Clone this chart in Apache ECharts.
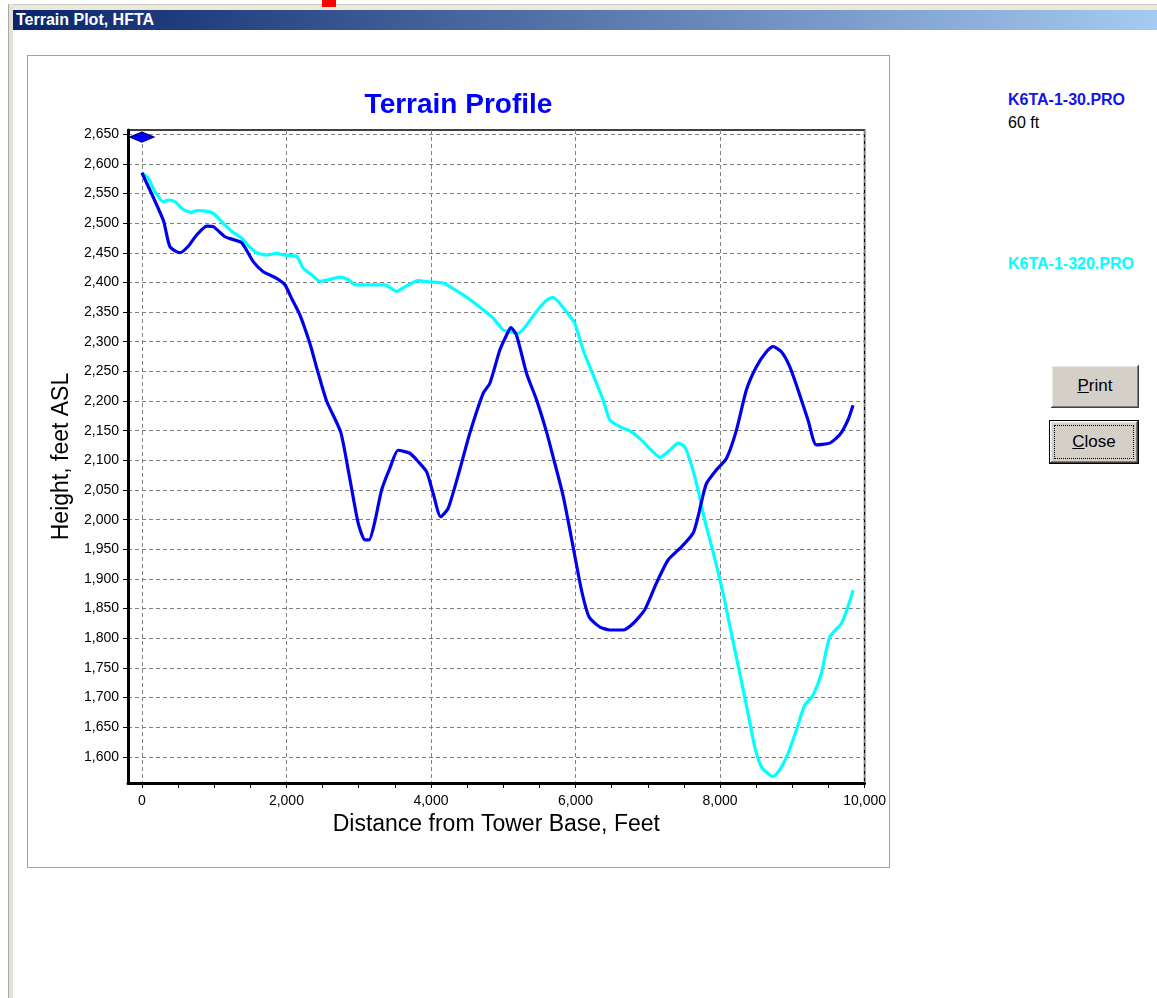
<!DOCTYPE html>
<html>
<head>
<meta charset="utf-8">
<title>Terrain Plot, HFTA</title>
<script src="https://cdn.jsdelivr.net/npm/echarts@6/dist/echarts.min.js"></script>
<style>
  html, body { margin: 0; padding: 0; background: #fff; width: 1157px; height: 998px; overflow: hidden; }
  body { position: relative; font-family: 'Liberation Sans', Arial, sans-serif; }
  #topstrip { position: absolute; left: 8px; top: 4px; right: 0; height: 6px; background: #ece9d8; border-top: 1px solid #c8c8c8; }
  #redmark { position: absolute; left: 322px; top: 0; width: 14px; height: 7px; background: #ff0000; }
  #leftedge { position: absolute; left: 8px; top: 4px; width: 4px; bottom: 0; background: #e4e1d6; border-left: 1px solid #a8a8a8; }
  #titlebar { position: absolute; left: 13px; top: 10px; right: 0; height: 20px;
              background: linear-gradient(to right, #0a246a, #a6caf0); }
  #titlebar span { position: absolute; left: 3px; top: 1px; color: #fff; font-weight: bold; font-size: 16px; }
  #chart { position: absolute; left: 27px; top: 55px; width: 861px; height: 811px; border: 1px solid #a0a0a0; }
  .lbl { position: absolute; left: 1008px; font-size: 16px; }
  .btn { position: absolute; background: #d4d0c8; color: #000; font-size: 17px; text-align: center; box-sizing: border-box;
         box-shadow: inset -1px -1px #404040, inset 1px 1px #ffffff, inset -2px -2px #808080, inset 2px 2px #e8e6e0; }
  .btn u { text-decoration: underline; }
  #close { border: 1px solid #000; }
  #close .focus { position: absolute; left: 4px; top: 4px; right: 4px; bottom: 4px; border: 1px dotted #000; }
</style>
</head>
<body>
<div id="topstrip"></div>
<div id="redmark"></div>
<div id="leftedge"></div>
<div id="titlebar"><span>Terrain Plot, HFTA</span></div>

<div id="chart"></div>

<div class="lbl" style="top:91px; color:#1414e6; font-weight:bold;">K6TA-1-30.PRO</div>
<div class="lbl" style="top:114px; color:#000;">60 ft</div>
<div class="lbl" style="top:255px; color:#00ffff; font-weight:bold;">K6TA-1-320.PRO</div>

<div class="btn" style="left:1051px; top:365px; width:88px; height:43px; line-height:42px;"><u>P</u>rint</div>
<div class="btn" id="close" style="left:1049px; top:420px; width:90px; height:44px; line-height:42px;"><div class="focus"></div><u>C</u>lose</div>

<script>
// distances (feet from tower base) and heights (feet ASL)
var blueDist = [0, 296, 389, 527, 642, 758, 896, 988, 1150, 1242, 1380, 1541, 1679, 1864, 1979,
    2072, 2187, 2325, 2440, 2556, 2750, 2855, 2993, 3086, 3145, 3224, 3317, 3432, 3546, 3708,
    3823, 3939, 4031, 4133, 4238, 4400, 4538, 4722, 4815, 4953, 5045, 5105, 5184, 5322, 5461,
    5599, 5690, 5829, 5967, 6083, 6188, 6336, 6474, 6658, 6797, 6958, 7120, 7281, 7466, 7627,
    7696, 7743, 7812, 7950, 8088, 8227, 8365, 8503, 8642, 8733, 8849, 8964, 9079, 9217, 9333,
    9517, 9656, 9770, 9840];
var blueHeight = [2585, 2505, 2460, 2450, 2461, 2480, 2495, 2494, 2477, 2473, 2467, 2435, 2418, 2407, 2396,
    2373, 2345, 2297, 2247, 2200, 2148, 2084, 1994, 1966, 1966, 1997, 2050, 2087, 2117, 2112,
    2098, 2081, 2044, 2005, 2019, 2085, 2146, 2213, 2230, 2286, 2311, 2324, 2311, 2247, 2202,
    2148, 2106, 2040, 1954, 1881, 1836, 1819, 1814, 1814, 1825, 1848, 1893, 1932, 1954, 1977,
    2005, 2030, 2061, 2084, 2103, 2151, 2219, 2258, 2283, 2292, 2283, 2258, 2219, 2168, 2126,
    2129, 2143, 2168, 2193];

var cyanDist = [0, 89, 181, 296, 365, 458, 573, 688, 758, 942, 1011, 1149, 1264, 1380, 1472,
    1588, 1726, 1864, 1979, 2141, 2232, 2348, 2463, 2602, 2740, 2855, 2948, 3109, 3362, 3524,
    3662, 3823, 3962, 4169, 4300, 4445, 4607, 4722, 4860, 4999, 5091, 5206, 5322, 5461, 5599,
    5690, 5852, 5990, 6105, 6244, 6382, 6474, 6612, 6775, 6913, 7051, 7166, 7304, 7419, 7512,
    7604, 7696, 7789, 7890, 8042, 8157, 8272, 8388, 8480, 8572, 8664, 8733, 8826, 8941, 9056,
    9171, 9286, 9402, 9517, 9679, 9770, 9840];
var cyanHeight = [2585, 2576, 2553, 2536, 2539, 2536, 2523, 2518, 2521, 2519, 2514, 2497, 2484, 2475, 2462,
    2450, 2446, 2449, 2446, 2444, 2424, 2413, 2402, 2405, 2409, 2405, 2396, 2396, 2396, 2385,
    2394, 2403, 2401, 2399, 2390, 2379, 2365, 2354, 2340, 2320, 2317, 2314, 2328, 2351, 2370,
    2375, 2354, 2331, 2286, 2244, 2202, 2168, 2157, 2148, 2134, 2117, 2105, 2117, 2129, 2123,
    2092, 2050, 1999, 1952, 1876, 1808, 1741, 1673, 1617, 1583, 1572, 1567, 1578, 1606, 1645,
    1687, 1704, 1741, 1802, 1825, 1853, 1881];

var towerPoint = [0, 2645];

var xTicks = [0, 2000, 4000, 6000, 8000, 10000];
var xMinorTicks = [500, 1000, 1500, 2500, 3000, 3500, 4500, 5000, 5500, 6500, 7000, 7500, 8500, 9000, 9500];
var yTicks = [1600, 1650, 1700, 1750, 1800, 1850, 1900, 1950, 2000, 2050, 2100, 2150, 2200, 2250,
    2300, 2350, 2400, 2450, 2500, 2550, 2600, 2650];

var FONT = "'Liberation Sans', Arial, sans-serif";

var zip = function (xs, ys) {
    var out = [];
    for (var i = 0; i < xs.length; i++) out.push([xs[i], ys[i]]);
    return out;
};
var commas = function (v) {
    return String(v).replace(/\B(?=(\d{3})+(?!\d))/g, ',');
};

var myChart = echarts.init(document.getElementById('chart'), null, { renderer: 'canvas' });
var option = {
    animation: false,
    title: {
        text: 'Terrain Profile',
        left: 'center',
        top: 30,
        textStyle: { color: '#0000ff', fontSize: 28, fontWeight: 'bold', fontFamily: FONT }
    },
    grid: {
        left: 100, top: 74, right: 24, bottom: 84,
        show: true, borderColor: '#000', borderWidth: 1.5, backgroundColor: '#fff'
    },
    xAxis: [{
        type: 'value', min: -192, max: 10000, position: 'bottom',
        name: 'Distance from Tower Base, Feet', nameLocation: 'middle', nameGap: 30,
        nameTextStyle: { fontSize: 23, color: '#000', fontFamily: FONT },
        axisLine: { show: true, onZero: false, lineStyle: { color: '#000', width: 3 } },
        axisTick: { show: true, customValues: xTicks, length: 5, lineStyle: { color: '#000' } },
        axisLabel: { customValues: xTicks, formatter: commas, margin: 11, fontSize: 14, color: '#000', fontFamily: FONT },
        splitLine: { show: true, lineStyle: { color: '#808080', type: [4, 3], width: 1 } }
    }, {
        type: 'value', min: -192, max: 10000, position: 'bottom',
        axisLine: { show: false, onZero: false },
        axisTick: { show: true, customValues: xMinorTicks, length: 5, lineStyle: { color: '#000' } },
        axisLabel: { show: false },
        splitLine: { show: false }
    }],
    yAxis: {
        type: 'value', min: 1556, max: 2657,
        name: 'Height, feet ASL', nameLocation: 'middle', nameGap: 52,
        nameTextStyle: { fontSize: 23, color: '#000', fontFamily: FONT },
        axisLine: { show: true, onZero: false, lineStyle: { color: '#000', width: 3 } },
        axisTick: { show: true, customValues: yTicks, length: 5, lineStyle: { color: '#000' } },
        axisLabel: { customValues: yTicks, formatter: commas, margin: 9, fontSize: 14, color: '#000', fontFamily: FONT },
        splitLine: { show: true, lineStyle: { color: '#808080', type: [4, 3], width: 1 } }
    },
    series: [{
        name: 'K6TA-1-320.PRO', type: 'line', xAxisIndex: 0,
        data: zip(cyanDist, cyanHeight), smooth: 0.2, showSymbol: false,
        lineStyle: { color: '#00ffff', width: 3.2 }
    }, {
        name: 'K6TA-1-30.PRO', type: 'line', xAxisIndex: 0,
        data: zip(blueDist, blueHeight), smooth: 0.2, showSymbol: false,
        lineStyle: { color: '#0000ee', width: 3.2 }
    }, {
        name: 'tower', type: 'scatter', xAxisIndex: 0,
        data: [towerPoint], symbol: 'diamond', symbolSize: [24, 10],
        itemStyle: { color: '#0000ff', borderColor: '#000080', borderWidth: 1.5, opacity: 1 }
    }]
};
myChart.setOption(option);
</script>
</body>
</html>
